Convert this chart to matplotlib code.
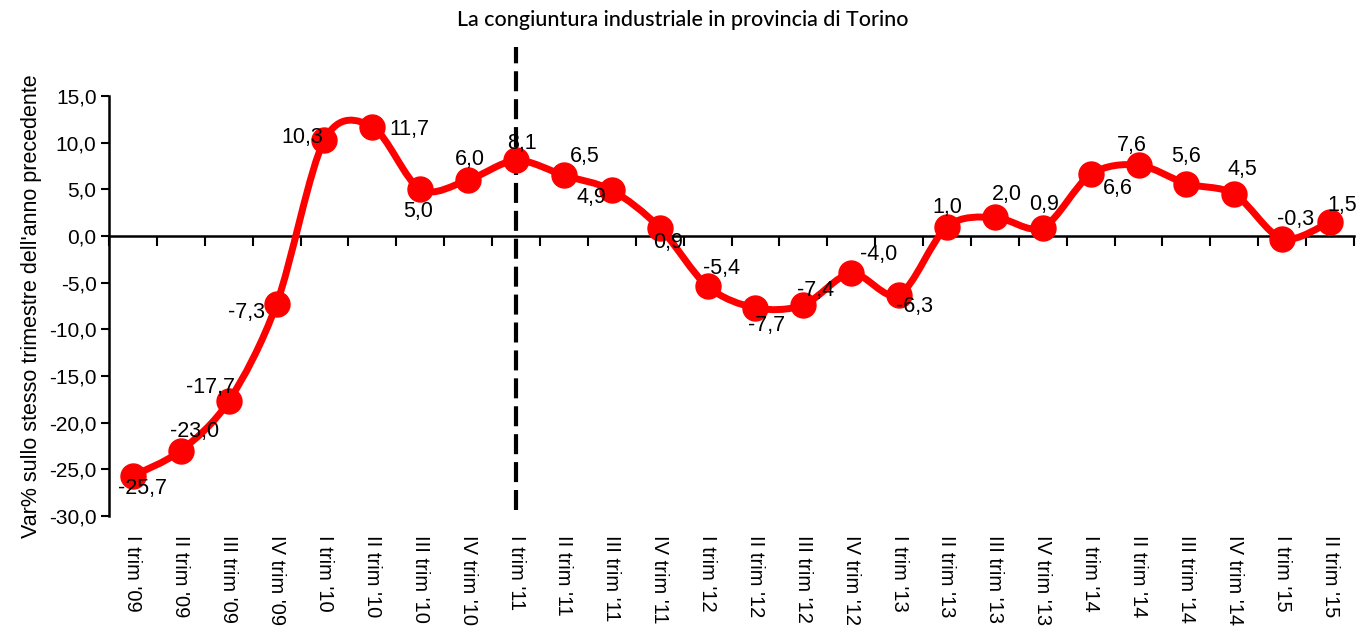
import numpy as np
import matplotlib
matplotlib.use("Agg")
import matplotlib.pyplot as plt
from matplotlib.path import Path
from matplotlib.patches import PathPatch
from matplotlib.transforms import blended_transform_factory

# ---------------- data ----------------
categories = ["I trim '09", "II trim '09", "III trim '09", "IV trim '09",
              "I trim '10", "II trim '10", "III trim '10", "IV trim '10",
              "I trim '11", "II trim '11", "III trim '11", "IV trim '11",
              "I trim '12", "II trim '12", "III trim '12", "IV trim '12",
              "I trim '13", "II trim '13", "III trim '13", "IV trim '13",
              "I trim '14", "II trim '14", "III trim '14", "IV trim '14",
              "I trim '15", "II trim '15"]
values = [-25.7, -23.0, -17.7, -7.3, 10.3, 11.7, 5.0, 6.0,
          8.1, 6.5, 4.9, 0.9, -5.4, -7.7, -7.4, -4.0,
          -6.3, 1.0, 2.0, 0.9, 6.6, 7.6, 5.6, 4.5,
          -0.3, 1.5]
divider_category = "I trim '11"
yticks = [-30, -25, -20, -15, -10, -5, 0, 5, 10, 15]

title = "La congiuntura industriale in provincia di Torino"
ylabel = "Var% sullo stesso trimestre dell'anno precedente"

# label offsets in pixels (dx right, dy down) - style only
label_offsets = [(10, 13), (14, -19), (-18, -14), (-30, 8), (-22, -2), (37, 3),
                 (-2, 22), (2, -20), (6, -17), (21, -19), (-20, 7), (8, 15),
                 (14, -18), (11, 18), (12, -15), (27, -19), (15, 12), (0, -19),
                 (12, -23), (1, -23), (27, 14), (-7, -20), (0, -27), (8, -25),
                 (13, -19), (12, -17)]

RED = "#FF0000"
FONT = "Liberation Sans"
plt.rcParams["font.family"] = [FONT, "DejaVu Sans"]

fig = plt.figure(figsize=(13.66, 6.28), dpi=100)
ax = fig.add_axes([109 / 1366, 1 - 516 / 628, (1354 - 109) / 1366, 420 / 628])

n = len(values)
x = np.arange(n, dtype=float)
y = np.array(values, dtype=float)

# smoothed line (Catmull-Rom as cubic Bezier, like Excel's smoothed line)
pts = np.column_stack([x, y])
verts = [pts[0]]
codes = [Path.MOVETO]
k = 1.0 / 6.5
for i in range(n - 1):
    p0 = pts[max(i - 1, 0)]
    p1 = pts[i]
    p2 = pts[i + 1]
    p3 = pts[min(i + 2, n - 1)]
    c1 = p1 + (p2 - p0) * k
    c2 = p2 - (p3 - p1) * k
    verts += [c1, c2, p2]
    codes += [Path.CURVE4] * 3
path = Path(np.array(verts), codes)
ax.add_patch(PathPatch(path, facecolor="none", edgecolor=RED, lw=5,
                       capstyle="round", joinstyle="round", zorder=3))
ax.plot(x, y, "o", ms=18, color=RED, mec=RED, zorder=4)

ax.set_xlim(-0.5, n - 0.5)
ax.set_ylim(-30, 15)

# y axis
ax.set_yticks(yticks)
ax.set_yticklabels([f"{v:.1f}".replace(".", ",") for v in yticks],
                   fontsize=15)
ax.tick_params(axis="y", direction="out", length=6, width=1.5, pad=3)
ax.set_ylabel(ylabel, fontsize=15.5, labelpad=5)

# x axis at zero
for s in ["top", "right"]:
    ax.spines[s].set_visible(False)
ax.spines["left"].set_linewidth(1.8)
ax.spines["bottom"].set_position(("data", 0))
ax.spines["bottom"].set_linewidth(1.8)
ax.set_xticks(np.arange(n + 1) - 0.5)
ax.set_xticklabels([])
ax.tick_params(axis="x", direction="out", length=7, width=1.5)

# category labels at the bottom, rotated
trans = blended_transform_factory(ax.transData, ax.transAxes)
for i, c in enumerate(categories):
    ax.annotate(c, xy=(i, 0), xycoords=trans, xytext=(0, -19),
                textcoords="offset pixels", rotation=-90, ha="center",
                va="top", fontsize=14.5, annotation_clip=False)

# data labels
for i, (v, (dx, dy)) in enumerate(zip(values, label_offsets)):
    ax.annotate(f"{v:.1f}".replace(".", ","), xy=(i, v), xytext=(dx, -dy),
                textcoords="offset pixels", ha="center", va="center",
                fontsize=15.5, zorder=5)

# dashed divider
div = categories.index(divider_category)
ax.axvline(div, ymin=6 / 420, ymax=(516 - 47) / 420, color="black", lw=3,
           dashes=(4.8, 1.9), clip_on=False, zorder=2)

fig.text(0.5, 1 - 20 / 628, title, ha="center", va="center", fontsize=15.5,
         fontweight="medium", family=["Lato", "DejaVu Sans"])

fig.savefig("out.png", dpi=100)
